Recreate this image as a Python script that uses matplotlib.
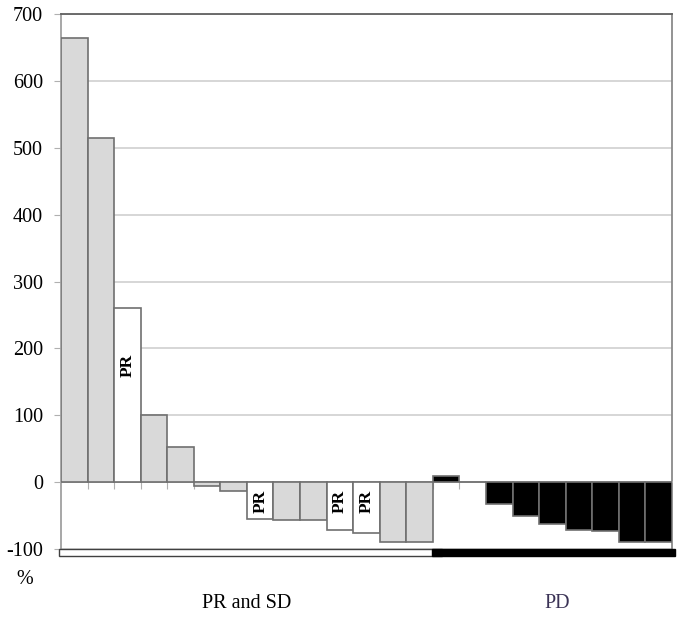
# Gráfico em cascata: variação (%) por paciente, grupos PR/SD e PD

import matplotlib.pyplot as plt

# Valores de cada barra (%), na ordem do gráfico
valores = [665, 515, 260, 100, 52, -5, -13, -55, -56, -57, -72, -76, -90, -90,
           10, 0, -33, -51, -63, -72, -73, -90, -90]
# Resposta de cada barra: SD, PR ou PD
resposta = ['SD', 'SD', 'PR', 'SD', 'SD', 'SD', 'SD', 'PR', 'SD', 'SD', 'PR', 'PR', 'SD', 'SD',
            'PD', 'PD', 'PD', 'PD', 'PD', 'PD', 'PD', 'PD', 'PD']
grupos = ['PR and SD', 'PD']
yticks = [-100, 0, 100, 200, 300, 400, 500, 600, 700]

plt.rcParams['font.family'] = ['Liberation Serif', 'DejaVu Serif']
plt.rcParams['axes.unicode_minus'] = False

cores = {'SD': '#d9d9d9', 'PR': 'white', 'PD': 'black'}
borda = '#707070'

fig = plt.figure(figsize=(6.85, 6.19), dpi=100)
ax = fig.add_axes([0.089, 0.113, 0.892, 0.864])

x = list(range(len(valores)))
ax.bar(x, valores, width=1.0, color=[cores[r] for r in resposta],
       edgecolor=borda, linewidth=1.2, zorder=3)

# Rótulo "PR" dentro das barras brancas
for i, (v, r) in enumerate(zip(valores, resposta)):
    if r == 'PR':
        y = v * 0.67 if v > 0 else -28
        ax.text(i, y, 'PR', rotation=90, ha='center', va='center',
                fontsize=12.5, fontweight='bold', zorder=4)

ax.set_xlim(-0.5, len(valores) - 0.5)
ax.set_ylim(-100, 700)
ax.set_yticks(yticks)
ax.tick_params(axis='y', labelsize=14.5, length=5, color='#b0b0b0', pad=8)
ax.yaxis.grid(True, color='#d0d0d0', linewidth=1.2, zorder=0)

# Linha do zero com marcas entre as categorias
ax.spines['bottom'].set_position(('data', 0))
ax.spines['bottom'].set_color('#b0b0b0')
ax.spines['bottom'].set_linewidth(1.2)
ax.set_xticks([i + 0.5 for i in x[:-1]])
ax.set_xticklabels([])
ax.tick_params(axis='x', length=5, color='#b0b0b0', direction='out')

ax.spines['left'].set_color('#a0a0a0')
ax.spines['right'].set_color('#8a8a8a')
ax.spines['top'].set_color('#606060')
for s in ['left', 'right', 'top']:
    ax.spines[s].set_linewidth(1.3)

# Barras de grupo abaixo do eixo
n1 = sum(1 for r in resposta if r != 'PD')
ax.barh(-105, n1 + 0.43, left=-0.58, height=11, color='white', edgecolor='#404040',
        linewidth=1.0, clip_on=False, zorder=3)
ax.barh(-105, len(valores) - n1 + 0.17, left=n1 - 0.55, height=11, color='black',
        edgecolor='black', linewidth=1.0, clip_on=False, zorder=3)

fig.text(25 / 685, 1 - 580 / 619, '%', fontsize=14.5, ha='center', va='center')
fig.text(247 / 685, 1 - 603 / 619, grupos[0], fontsize=14.5, ha='center', va='center')
fig.text(557 / 685, 1 - 603 / 619, grupos[1], fontsize=14.5, ha='center', va='center',
         color='#3b3356')

plt.savefig('out.png', dpi=100)
plt.close()
